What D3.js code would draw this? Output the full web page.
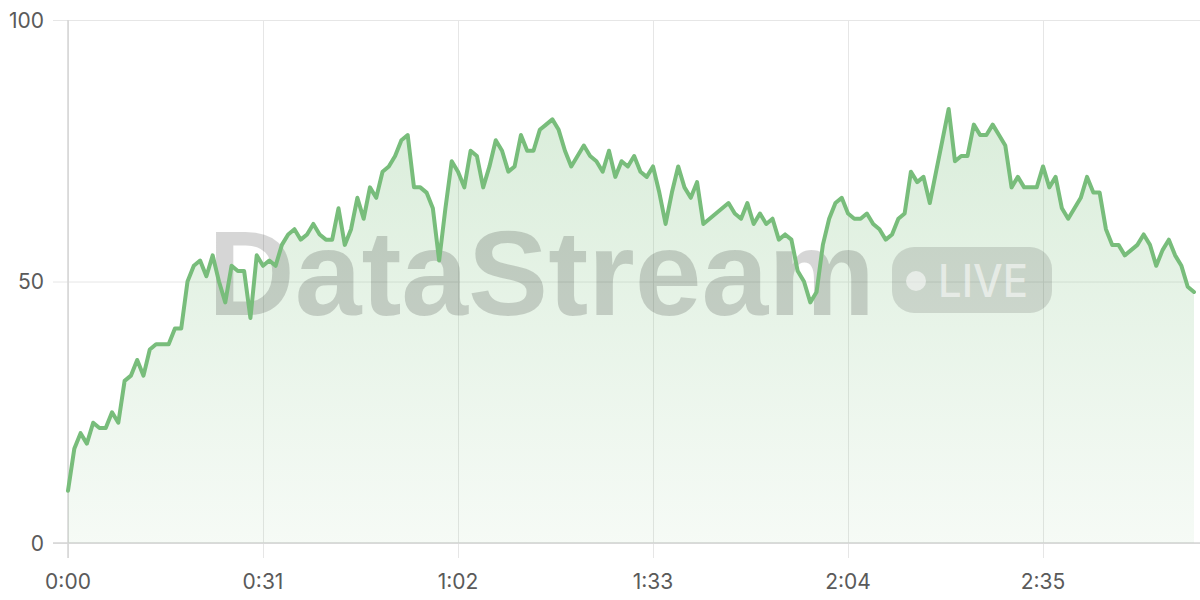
<!DOCTYPE html>
<html>
<head>
<meta charset="utf-8">
<script src="https://cdn.jsdelivr.net/npm/d3@7/dist/d3.min.js"></script>
<style>
  html, body { margin: 0; padding: 0; background: #fff; }
  svg { display: block; }
</style>
</head>
<body>
<svg id="chart" width="1200" height="600"></svg>
<script>
// ---- data ----
const values = [
  10, 18, 21, 19, 23, 22, 22, 25, 23, 31,
  32, 35, 32, 37, 38, 38, 38, 41, 41, 50,
  53, 54, 51, 55, 50, 46, 53, 52, 52, 43,
  55, 53, 54, 53, 57, 59, 60, 58, 59, 61,
  59, 58, 58, 64, 57, 60, 66, 62, 68, 66,
  71, 72, 74, 77, 78, 68, 68, 67, 64, 54,
  64, 73, 71, 68, 75, 74, 68, 72, 77, 75,
  71, 72, 78, 75, 75, 79, 80, 81, 79, 75,
  72, 74, 76, 74, 73, 71, 75, 70, 73, 72,
  74, 71, 70, 72, 67, 61, 67, 72, 68, 66,
  69, 61, 62, 63, 64, 65, 63, 62, 65, 61,
  63, 61, 62, 58, 59, 58, 52, 50, 46, 48,
  57, 62, 65, 66, 63, 62, 62, 63, 61, 60,
  58, 59, 62, 63, 71, 69, 70, 65, 71, 77,
  83, 73, 74, 74, 80, 78, 78, 80, 78, 76,
  68, 70, 68, 68, 68, 72, 68, 70, 64, 62,
  64, 66, 70, 67, 67, 60, 57, 57, 55, 56,
  57, 59, 57, 53, 56, 58, 55, 53, 49, 48
];
const seconds = values.map((v, i) => i);
const xTickValues = [0, 31, 62, 93, 124, 155];
const yTickValues = [0, 50, 100];
const watermarkText = "DataStream";
const liveText = "LIVE";

// ---- chart ----
(function () {
const svg = d3.select("#chart");
const mLeft = 68, mRight = 1194, mTop = 20, mBottom = 543;

const x = d3.scaleLinear().domain([0, 179]).range([mLeft, mRight]);
const y = d3.scaleLinear().domain([0, 100]).range([mBottom, mTop]);

const fmt = s => Math.floor(s / 60) + ":" + String(s % 60).padStart(2, "0");

const defs = svg.append("defs");
const grad = defs.append("linearGradient")
  .attr("id", "areaGrad")
  .attr("gradientUnits", "userSpaceOnUse")
  .attr("x1", 0).attr("x2", 0).attr("y1", mTop).attr("y2", mBottom);
grad.append("stop").attr("offset", "0%").attr("stop-color", "#7abf7c").attr("stop-opacity", 0.32);
grad.append("stop").attr("offset", "100%").attr("stop-color", "#7abf7c").attr("stop-opacity", 0.07);

// grid: horizontal
const yAxis = d3.axisLeft(y).tickValues(yTickValues).tickSize(-(1200 - mLeft)).tickFormat("");
const yg = svg.append("g").attr("transform", `translate(${mLeft},0)`).call(yAxis);
yg.select(".domain").remove();
yg.selectAll(".tick line").attr("stroke", "#e6e6e6").attr("x1", -15);

// grid: vertical
const xAxis = d3.axisBottom(x).tickValues(xTickValues).tickSize(-(mBottom - mTop)).tickFormat("");
const xg = svg.append("g").attr("transform", `translate(0,${mBottom})`).call(xAxis);
xg.select(".domain").remove();
xg.selectAll(".tick line").attr("stroke", "#e6e6e6").attr("y1", 15);

// axis lines
svg.append("line").attr("x1", mLeft).attr("x2", mLeft).attr("y1", mTop).attr("y2", mBottom + 15)
  .attr("stroke", "#d4d4d4").attr("stroke-width", 1.5);
svg.append("line").attr("x1", mLeft - 15).attr("x2", 1200).attr("y1", y(0)).attr("y2", y(0))
  .attr("stroke", "#d4d4d4").attr("stroke-width", 1.5);

// labels
const labelFont = "Inter, 'Liberation Sans', sans-serif";
svg.append("g").selectAll("text").data(yTickValues).join("text")
  .attr("x", 44).attr("y", d => y(d)).attr("dy", "0.36em")
  .attr("text-anchor", "end").attr("font-family", labelFont).attr("font-size", 21)
  .attr("fill", "#5a5a5a").text(d => d);
svg.append("g").selectAll("text").data(xTickValues).join("text")
  .attr("x", d => x(d)).attr("y", 589)
  .attr("text-anchor", "middle").attr("font-family", labelFont).attr("font-size", 21)
  .attr("fill", "#5a5a5a").text(d => fmt(d));

// area
const area = d3.area().x((d, i) => x(seconds[i])).y0(y(0)).y1(d => y(d));
svg.append("path").datum(values).attr("d", area).attr("fill", "url(#areaGrad)");

// watermark
const wm = svg.append("g").attr("pointer-events", "none");
wm.append("text").attr("x", 208).attr("y", 315)
  .attr("font-family", "'Liberation Sans', Arial, sans-serif").attr("font-weight", "bold")
  .attr("font-size", 121).attr("textLength", 667).attr("lengthAdjust", "spacingAndGlyphs")
  .attr("fill", "#000").attr("fill-opacity", 0.16).text(watermarkText);
wm.append("rect").attr("x", 892).attr("y", 247).attr("width", 160).attr("height", 66).attr("rx", 22)
  .attr("fill", "#000").attr("fill-opacity", 0.12);
wm.append("circle").attr("cx", 916).attr("cy", 281).attr("r", 10)
  .attr("fill", "#fff").attr("fill-opacity", 0.55);
wm.append("text").attr("x", 938).attr("y", 297)
  .attr("font-family", "Inter, 'Liberation Sans', sans-serif").attr("font-weight", 500)
  .attr("font-size", 45).attr("textLength", 90).attr("lengthAdjust", "spacingAndGlyphs")
  .attr("fill", "#fff").attr("fill-opacity", 0.55).text(liveText);

// line
const line = d3.line().x((d, i) => x(seconds[i])).y(d => y(d));
svg.append("path").datum(values).attr("d", line)
  .attr("fill", "none").attr("stroke", "#78bd7b").attr("stroke-width", 4)
  .attr("stroke-linejoin", "round").attr("stroke-linecap", "round");
})();
</script>
</body>
</html>
